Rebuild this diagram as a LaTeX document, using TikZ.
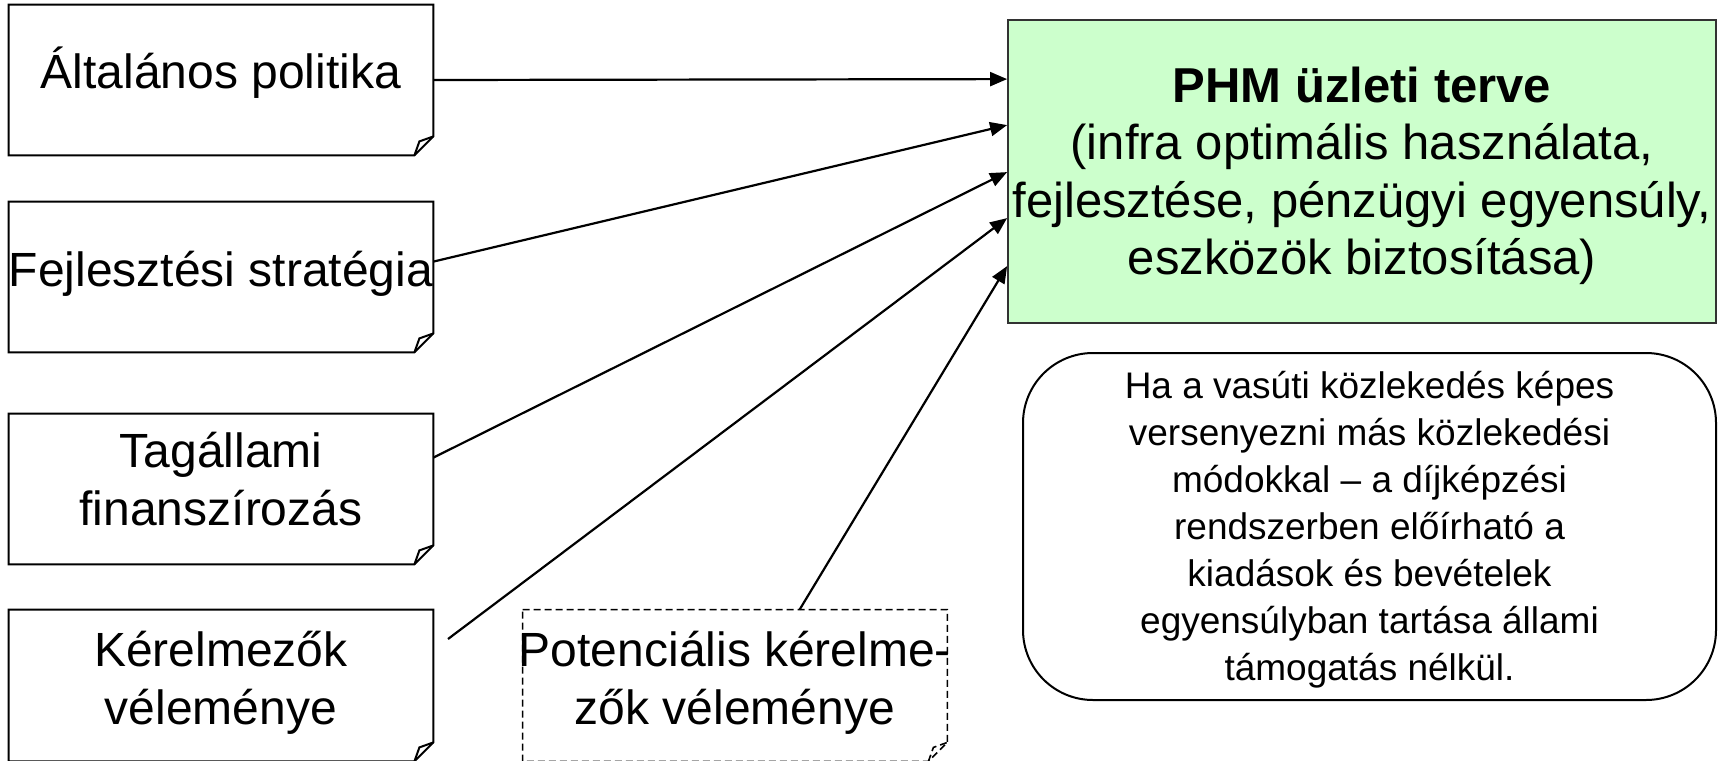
\documentclass[tikz,border=0pt]{standalone}
\usepackage{fontspec}
\setmainfont{Liberation Sans}
\usetikzlibrary{arrows.meta,calc}
\definecolor{phmgreen}{RGB}{204,255,204}
\definecolor{gborder}{RGB}{50,50,50}
\newcommand\topS{\vrule height 1em depth 0pt width 0pt}
\newcommand\botS{\vrule height 0pt depth 0.3em width 0pt}
\newcommand\foldedoutline[2][]{%
  \draw[edge,fill=white,#1] (#2.north west) -- (#2.north east) -- ([yshift=9.5pt]#2.south east)
     -- ([xshift=-9.5pt]#2.south east) -- (#2.south west) -- cycle;
  \draw[edge,#1] ([xshift=-9.5pt]#2.south east) -- ([xshift=-7pt,yshift=7pt]#2.south east)
     -- ([yshift=9.5pt]#2.south east);
}
\begin{document}
\begin{tikzpicture}[x=0.5pt,y=-0.5pt,
  boxarea/.style={rectangle, draw=none, inner sep=0pt, minimum width=212pt, minimum height=75pt},
  lbl/.style={inner sep=0pt, align=center, font=\fontsize{24}{29}\selectfont},
  edge/.style={line width=1pt, line join=miter},
  dashedge/.style={line width=0.8pt, dash pattern=on 3.5pt off 2pt},
  arr/.style={line width=1.1pt, -{Triangle[length=8.5pt,width=7pt]}},
  planbox/.style={draw=gborder, fill=phmgreen, line width=0.9pt, inner sep=0pt,
     minimum width=354pt, minimum height=151.5pt, align=center,
     font=\fontsize{24.5}{28.75}\selectfont},
  notebox/.style={draw, rounded corners=35pt, line width=1pt, inner sep=0pt,
     minimum width=346.5pt, minimum height=173.5pt, align=center,
     font=\fontsize{18.5}{23.5}\selectfont},
]
\useasboundingbox (0,0) rectangle (1718,760);

% left folded boxes
\node[boxarea] (b1) at (221,80) {};
\node[boxarea] (b2) at (221,277) {};
\node[boxarea] (b3) at (221,489) {};
\node[boxarea, minimum height=75.5pt] (b4) at (221,685.5) {};
\node[boxarea, minimum height=75.5pt] (d5) at (735,685.5) {};

\foldedoutline{b1}
\foldedoutline{b2}
\foldedoutline{b3}
\foldedoutline{b4}
\foldedoutline[dashedge]{d5}

\node[lbl] (t1) at (221,72) {Általános politika\topS\botS};
\node[lbl] (t2) at (221,270) {Fejlesztési stratégia\topS\botS};
\node[lbl] (t3) at (221,480) {Tagállami\topS\\finanszírozás\botS};
\node[lbl] (t4) at (221,679) {Kérelmezők\topS\\véleménye\botS};
\node[lbl] (t5) at (735,679) {Potenciális kérelme-\topS\\zők véleménye\botS};

% green plan box
\node[planbox] (g) at (1362,171.5) {\textbf{PHM üzleti terve}\topS\\(infra optimális használata,\\fejlesztése, pénzügyi egyensúly,\\eszközök biztosítása)\botS};

% rounded note
\node[notebox] (n) at (1369.5,526.5) {Ha a vasúti közlekedés képes\topS\\versenyezni más közlekedési\\módokkal – a díjképzési\\rendszerben előírható a\\kiadások és bevételek\\egyensúlyban tartása állami\\támogatás nélkül.\botS};

% arrows
\coordinate (k4) at (448,639);
\draw[arr] (b1.east) -- ($(g.north west)+(0,60)$);
\draw[arr] ($(b2.north east)+(0,60)$) -- ($(g.north west)+(0,106)$);
\draw[arr] ($(b3.north east)+(0,44)$) -- ($(g.north west)+(0,153)$);
\draw[arr] (k4) -- ($(g.north west)+(0,199)$);
\draw[arr] ($(d5.north west)+(277,0)$) -- ($(g.north west)+(0,247)$);
\end{tikzpicture}
\end{document}
